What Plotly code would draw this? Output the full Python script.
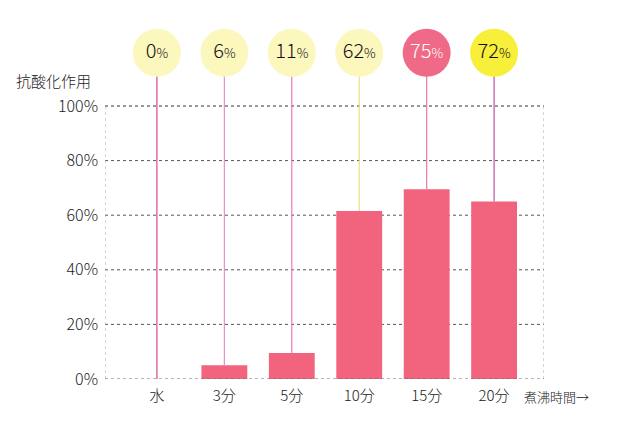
import plotly.graph_objects as go

categories = ["水", "3分", "5分", "10分", "15分", "20分"]
bar_values = [0, 5, 9.5, 61.5, 69.5, 65]
circle_labels = ["0", "6", "11", "62", "75", "72"]
circle_colors = ["#fcf7bd", "#fcf7bd", "#fcf7bd", "#fcf7bd", "#ee6a86", "#f8ef3a"]
circle_text_colors = ["#111", "#111", "#111", "#111", "#ffffff", "#111"]
line_colors = ["#d4488c", "#e392c8", "#e77ab6", "#f5d98e", "#e87aa2", "#bb4f9e"]
y_ticks = [0, 20, 40, 60, 80, 100]
y_tick_labels = ["0%", "20%", "40%", "60%", "80%", "100%"]

FONT = "Noto Sans CJK JP"
xs = list(range(len(categories)))
X0, X1 = -0.77, 5.74
CIRCLE_Y = 119.5

fig = go.Figure()

for i, (v, c) in enumerate(zip(bar_values, line_colors)):
    fig.add_trace(go.Scatter(x=[i, i], y=[v, CIRCLE_Y], mode="lines",
                             line=dict(color=c, width=1.2), hoverinfo="skip",
                             showlegend=False))

fig.add_trace(go.Bar(x=xs, y=bar_values, width=0.68,
                     marker=dict(color="#f2647e", line=dict(width=0)),
                     showlegend=False))

texts = [f"{l}<span style='font-size:13px'>%</span>" for l in circle_labels]
fig.add_trace(go.Scatter(
    x=xs, y=[CIRCLE_Y] * len(xs), mode="markers+text",
    marker=dict(size=48, color=circle_colors, line=dict(width=0)),
    text=texts, textposition="middle center",
    textfont=dict(size=20, color=circle_text_colors, family=FONT, weight=300),
    cliponaxis=False, showlegend=False, hoverinfo="skip"))

shapes = []
for t in [20, 40, 60, 80]:
    shapes.append(dict(type="line", xref="x", yref="y", x0=X0, x1=X1, y0=t, y1=t,
                       line=dict(color="#555", width=1, dash="dot"), layer="below"))
shapes.append(dict(type="line", xref="x", yref="y", x0=X0, x1=X1, y0=100, y1=100,
                   line=dict(color="#333", width=1, dash="dot"), layer="below"))
shapes.append(dict(type="line", xref="x", yref="y", x0=X0, x1=X1, y0=0, y1=0,
                   line=dict(color="#666", width=1, dash="dot"), layer="above"))
for xv in [X0, X1]:
    shapes.append(dict(type="line", xref="x", yref="y", x0=xv, x1=xv, y0=0, y1=100,
                       line=dict(color="#aaa", width=1, dash="dot"), layer="below"))

fig.update_layout(
    width=640, height=442,
    margin=dict(l=97, r=104, t=12, b=71),
    paper_bgcolor="white", plot_bgcolor="white",
    font=dict(family=FONT, color="#222", size=14, weight=300),
    shapes=shapes,
    xaxis=dict(range=[X0, X1], tickvals=xs, ticktext=categories, showgrid=False,
               zeroline=False, showline=False, ticks="", ticklabelstandoff=6,
               tickfont=dict(size=15, color="#222", weight=300)),
    yaxis=dict(range=[0, 131.5], tickvals=y_ticks, ticktext=y_tick_labels, showgrid=False,
               zeroline=False, showline=False, ticks="", ticklabelstandoff=6,
               tickfont=dict(size=16, color="#222", weight=300)),
    annotations=[
        dict(text="抗酸化作用", xref="paper", yref="paper",
             x=(53 - 105) / 439, y=(442 - 63 - 80) / 359, xanchor="center", yanchor="middle",
             showarrow=False, font=dict(size=15, color="#222", family=FONT, weight=300)),
        dict(text="煮沸時間→", xref="paper", yref="paper",
             x=(556 - 105) / 439, y=(442 - 63 - 397) / 359, xanchor="center", yanchor="middle",
             showarrow=False, font=dict(size=13, color="#222", family=FONT, weight=300)),
    ],
)

fig.write_html("out.html")
